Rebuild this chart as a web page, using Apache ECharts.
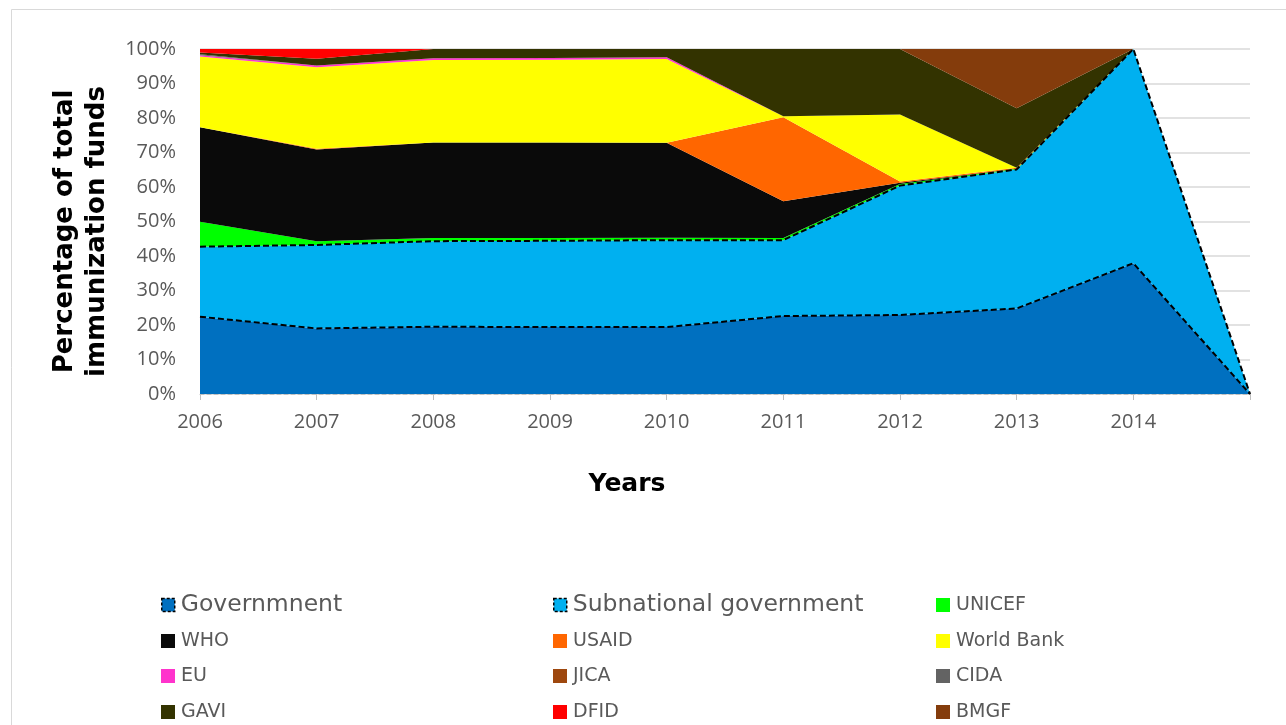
<!DOCTYPE html>
<html>
<head>
<meta charset="utf-8">
<script src="https://cdn.jsdelivr.net/npm/echarts@6/dist/echarts.min.js"></script>
<style>
  html, body { margin: 0; padding: 0; background: #ffffff; }
  #chart { width: 1286px; height: 725px; }
</style>
</head>
<body>
<div id="chart"></div>
<script>
// ---- Data ----
const years = ['2006', '2007', '2008', '2009', '2010', '2011', '2012', '2013', '2014', ''];
const yTicks = ['0%', '10%', '20%', '30%', '40%', '50%', '60%', '70%', '80%', '90%', '100%'];

const seriesNames = ['Governmnent', 'Subnational government', 'UNICEF', 'WHO', 'USAID', 'World Bank',
                     'EU', 'JICA', 'CIDA', 'GAVI', 'DFID', 'BMGF'];

const government  = [22.4, 19.0, 19.5, 19.4, 19.4, 22.6, 22.9, 24.8, 37.9, 0];
const subnational = [20.3, 24.2, 24.8, 25.0, 25.2, 22.0, 37.5, 40.3, 62.1, 0];
const unicef      = [7.2, 1.1, 0.9, 0.8, 0.7, 0.6, 0.5, 0.2, 0, 0];
const who         = [27.4, 26.6, 27.7, 27.7, 27.5, 10.7, 0.3, 0, 0, 0];
const usaid       = [0, 0.2, 0, 0, 0, 24.3, 0.4, 0.3, 0, 0];
const worldBank   = [20.5, 23.6, 23.9, 24.0, 24.3, 0.3, 19.4, 0, 0, 0];
const eu          = [0.4, 0.5, 0.5, 0.5, 0.5, 0, 0, 0, 0, 0];
const jica        = [0, 0, 0, 0, 0, 0, 0, 0, 0, 0];
const cida        = [0.3, 0, 0, 0, 0, 0, 0, 0, 0, 0];
const gavi        = [0.5, 2.0, 2.7, 2.6, 2.4, 19.5, 19.0, 17.2, 0, 0];
const dfid        = [1.0, 2.8, 0, 0, 0, 0, 0, 0, 0, 0];
const bmgf        = [0, 0, 0, 0, 0, 0, 0, 17.2, 0, 0];

const seriesValues = [government, subnational, unicef, who, usaid, worldBank, eu, jica, cida, gavi, dfid, bmgf];

// ---- Styles ----
const colors = ['#0070C0', '#00B0F0', '#00FF00', '#0A0A0A', '#FF6600', '#FFFF00',
                '#FF33CC', '#9E480E', '#636363', '#333300', '#FF0000', '#843C0C'];
const dashedBorder = [true, true, false, false, false, false, false, false, false, false, false, false];

const legendCols = [161, 553, 936];
const legendRows = [605, 641, 676, 712];

const series = seriesNames.map((name, i) => ({
  name: name,
  type: 'line',
  stack: 'total',
  data: seriesValues[i],
  showSymbol: false,
  symbol: 'none',
  color: colors[i],
  itemStyle: { color: colors[i] },
  areaStyle: { color: colors[i], opacity: 1 },
  lineStyle: dashedBorder[i]
    ? { color: '#000000', type: [6, 3], width: 2 }
    : { color: colors[i], width: 0 },
  emphasis: { disabled: true },
  z: 2
}));

const legends = seriesNames.map((name, i) => {
  const col = i % 3, row = Math.floor(i / 3);
  const big = dashedBorder[i];
  const itemStyle = big
    ? { color: colors[i], borderColor: '#000000', borderWidth: 1.5, borderType: [3, 2] }
    : { color: colors[i], borderWidth: 0 };
  return {
    left: legendCols[col],
    top: legendRows[row] - 13,
    padding: 0,
    icon: 'rect',
    itemWidth: big ? 13 : 14,
    itemHeight: big ? 13 : 14,
    selectedMode: false,
    data: [{ name: name, itemStyle: itemStyle }],
    textStyle: {
      fontFamily: 'DejaVu Sans',
      fontSize: big ? 23.5 : 19,
      color: '#595959',
      lineHeight: 26,
      padding: [0, 0, 0, 1]
    }
  };
});

const chart = echarts.init(document.getElementById('chart'), null, { renderer: 'canvas' });
chart.setOption({
  animation: false,
  backgroundColor: '#ffffff',
  graphic: [{
    type: 'rect',
    shape: { x: 11.5, y: 9.5, width: 1400, height: 800 },
    style: { fill: 'none', stroke: '#d9d9d9', lineWidth: 1 },
    silent: true,
    z: -10
  }],
  grid: { left: 200, right: 36, top: 49, bottom: 331, containLabel: false },
  legend: legends,
  xAxis: {
    type: 'category',
    data: years,
    boundaryGap: false,
    name: 'Years',
    nameLocation: 'middle',
    nameGap: 75,
    nameTextStyle: {
      fontFamily: 'DejaVu Sans', fontWeight: 'bold', fontSize: 25, color: '#000000',
      lineHeight: 30, padding: [0, 196, 0, 0]
    },
    axisLine: { show: true, lineStyle: { color: '#bfbfbf', width: 1, type: [4, 3] } },
    axisTick: { show: true, length: 6, lineStyle: { color: '#bfbfbf' } },
    axisLabel: { fontFamily: 'Open Sans', fontSize: 20, color: '#595959', margin: 18 },
    splitLine: { show: false },
    z: 10
  },
  yAxis: {
    type: 'value',
    min: 0,
    max: 100,
    interval: 10,
    name: 'Percentage of total\nimmunization funds',
    nameLocation: 'middle',
    nameRotate: 90,
    nameGap: 87,
    nameTextStyle: {
      fontFamily: 'DejaVu Sans', fontWeight: 'bold', fontSize: 26, color: '#000000',
      lineHeight: 32, padding: [0, 20, 0, 0], align: 'center'
    },
    axisLine: { show: false },
    axisTick: { show: false },
    axisLabel: {
      fontFamily: 'Open Sans', fontSize: 20, color: '#595959', margin: 24,
      formatter: (v) => yTicks[Math.round(v / 10)]
    },
    splitLine: { show: true, lineStyle: { color: '#d9d9d9', width: 1.5 } }
  },
  series: series
});
</script>
</body>
</html>
